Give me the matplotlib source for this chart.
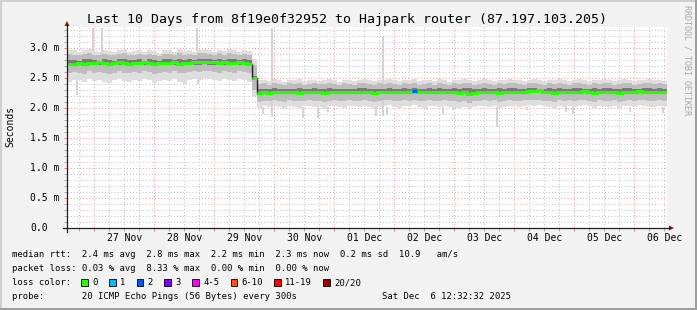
import numpy as np
import pandas as pd
import matplotlib
matplotlib.use("Agg")
import matplotlib.pyplot as plt
import matplotlib.dates as mdates
import matplotlib.transforms as mtransforms
from matplotlib.patches import Rectangle, Polygon
from matplotlib.ticker import MultipleLocator

# ---------------- data ----------------
title = "Last 10 Days from 8f19e0f32952 to Hajpark router (87.197.103.205)"
start_time = "2025-11-26 13:05"
bucket_freq = "2h"

median_rtt = ([2.73, 2.74, 2.75, 2.74, 2.75, 2.75, 2.76, 2.75, 2.74, 2.75,
               2.76, 2.75, 2.74, 2.75, 2.75, 2.76, 2.75, 2.74, 2.75, 2.75,
               2.75, 2.76, 2.74, 2.75, 2.75, 2.76, 2.76, 2.77, 2.76, 2.76,
               2.75, 2.76, 2.75, 2.75, 2.76, 2.75, 2.74]
              + [2.50]
              + [2.25, 2.26, 2.25, 2.27, 2.26, 2.26, 2.27, 2.26, 2.25, 2.26,
                 2.27, 2.27, 2.26, 2.25, 2.26, 2.27, 2.26, 2.26, 2.27, 2.26,
                 2.26, 2.27, 2.26, 2.25, 2.26, 2.27, 2.27, 2.26, 2.26, 2.27,
                 2.27, 2.28, 2.27, 2.26, 2.27, 2.27, 2.26, 2.27, 2.26, 2.26,
                 2.25, 2.26, 2.24, 2.25, 2.26, 2.27, 2.26, 2.27, 2.25, 2.26,
                 2.27, 2.26, 2.26, 2.27, 2.28, 2.29, 2.30, 2.27, 2.26, 2.25,
                 2.27, 2.26, 2.27, 2.26, 2.27, 2.28, 2.27, 2.25, 2.27, 2.26,
                 2.26, 2.27, 2.25, 2.26, 2.27, 2.26, 2.28, 2.27, 2.27, 2.26,
                 2.27, 2.27])

smoke_out_hi = ([2.97, 2.96, 2.93, 2.96, 2.99, 2.95, 2.94, 2.97, 2.95, 2.93,
                 2.96, 2.98, 2.94, 2.95, 2.97, 2.93, 2.96, 2.95, 2.92, 2.97,
                 2.96, 2.94, 2.98, 2.95, 2.96, 2.93, 2.97, 2.99, 2.96, 2.94,
                 2.97, 2.95, 2.98, 2.96, 2.94, 2.97, 2.95]
                + [2.82]
                + [2.46, 2.47, 2.45, 2.48, 2.46, 2.44, 2.47, 2.46, 2.48, 2.45,
                   2.46, 2.47, 2.45, 2.46, 2.48, 2.46, 2.44, 2.47, 2.46, 2.45,
                   2.47, 2.48, 2.46, 2.45, 2.47, 2.46, 2.49, 2.46, 2.45, 2.47,
                   2.46, 2.48, 2.45, 2.46, 2.47, 2.45, 2.48, 2.46, 2.44, 2.47,
                   2.46, 2.48, 2.47, 2.45, 2.46, 2.48, 2.46, 2.45, 2.47, 2.46,
                   2.49, 2.47, 2.46, 2.45, 2.47, 2.48, 2.46, 2.45, 2.47, 2.46,
                   2.48, 2.46, 2.45, 2.47, 2.48, 2.46, 2.45, 2.47, 2.46, 2.48,
                   2.47, 2.45, 2.46, 2.48, 2.47, 2.45, 2.46, 2.47, 2.48, 2.46,
                   2.47, 2.45])

smoke_mid_hi = ([2.90, 2.89, 2.88, 2.90, 2.92, 2.89, 2.88, 2.90, 2.89, 2.88,
                 2.90, 2.91, 2.89, 2.89, 2.90, 2.88, 2.90, 2.89, 2.87, 2.90,
                 2.90, 2.88, 2.91, 2.89, 2.90, 2.88, 2.91, 2.92, 2.90, 2.89,
                 2.91, 2.89, 2.91, 2.90, 2.89, 2.90, 2.89]
                + [2.72]
                + [2.40, 2.41, 2.39, 2.41, 2.40, 2.39, 2.41, 2.40, 2.42, 2.39,
                   2.40, 2.41, 2.40, 2.40, 2.42, 2.40, 2.39, 2.41, 2.40, 2.39,
                   2.41, 2.42, 2.40, 2.39, 2.41, 2.40, 2.42, 2.40, 2.39, 2.41,
                   2.40, 2.42, 2.39, 2.40, 2.41, 2.39, 2.42, 2.40, 2.39, 2.41,
                   2.40, 2.42, 2.41, 2.39, 2.40, 2.42, 2.40, 2.39, 2.41, 2.40,
                   2.42, 2.41, 2.40, 2.39, 2.41, 2.42, 2.40, 2.39, 2.41, 2.40,
                   2.42, 2.40, 2.39, 2.41, 2.42, 2.40, 2.39, 2.41, 2.40, 2.42,
                   2.41, 2.39, 2.40, 2.42, 2.41, 2.39, 2.40, 2.41, 2.42, 2.40,
                   2.41, 2.40])

smoke_core_hi = ([2.80, 2.80, 2.79, 2.81, 2.82, 2.80, 2.79, 2.81, 2.80, 2.79,
                  2.81, 2.81, 2.80, 2.80, 2.81, 2.79, 2.81, 2.80, 2.79, 2.81,
                  2.81, 2.80, 2.82, 2.80, 2.81, 2.80, 2.82, 2.82, 2.81, 2.80,
                  2.82, 2.80, 2.81, 2.81, 2.80, 2.81, 2.80]
                 + [2.53]
                 + [2.31, 2.32, 2.31, 2.33, 2.32, 2.31, 2.32, 2.32, 2.33, 2.31,
                    2.32, 2.33, 2.32, 2.31, 2.33, 2.32, 2.31, 2.32, 2.32, 2.31,
                    2.33, 2.33, 2.32, 2.31, 2.32, 2.32, 2.33, 2.32, 2.31, 2.33,
                    2.32, 2.33, 2.31, 2.32, 2.33, 2.32, 2.33, 2.32, 2.31, 2.33,
                    2.32, 2.33, 2.33, 2.31, 2.32, 2.33, 2.32, 2.31, 2.33, 2.32,
                    2.34, 2.33, 2.32, 2.31, 2.33, 2.33, 2.32, 2.31, 2.33, 2.32,
                    2.33, 2.32, 2.31, 2.33, 2.33, 2.32, 2.31, 2.33, 2.32, 2.33,
                    2.33, 2.31, 2.32, 2.33, 2.33, 2.31, 2.32, 2.33, 2.33, 2.32,
                    2.33, 2.32])

smoke_core_lo = ([2.70, 2.71, 2.71, 2.70, 2.72, 2.71, 2.72, 2.71, 2.70, 2.71,
                  2.72, 2.71, 2.70, 2.71, 2.71, 2.72, 2.71, 2.70, 2.71, 2.71,
                  2.71, 2.72, 2.70, 2.71, 2.71, 2.72, 2.72, 2.73, 2.72, 2.72,
                  2.71, 2.72, 2.71, 2.71, 2.72, 2.71, 2.70]
                 + [2.47]
                 + [2.22, 2.23, 2.22, 2.24, 2.23, 2.23, 2.24, 2.23, 2.22, 2.23,
                    2.24, 2.24, 2.23, 2.22, 2.23, 2.24, 2.23, 2.23, 2.24, 2.23,
                    2.23, 2.24, 2.23, 2.22, 2.23, 2.24, 2.24, 2.23, 2.23, 2.24,
                    2.24, 2.25, 2.24, 2.23, 2.24, 2.24, 2.23, 2.24, 2.23, 2.23,
                    2.22, 2.23, 2.21, 2.22, 2.23, 2.24, 2.23, 2.24, 2.22, 2.23,
                    2.24, 2.23, 2.23, 2.24, 2.25, 2.26, 2.27, 2.24, 2.23, 2.22,
                    2.24, 2.23, 2.24, 2.23, 2.24, 2.25, 2.24, 2.22, 2.24, 2.23,
                    2.23, 2.24, 2.22, 2.23, 2.24, 2.23, 2.25, 2.24, 2.24, 2.23,
                    2.24, 2.24])

smoke_mid_lo = ([2.58, 2.60, 2.59, 2.57, 2.61, 2.59, 2.60, 2.58, 2.57, 2.59,
                 2.61, 2.59, 2.58, 2.60, 2.59, 2.61, 2.60, 2.57, 2.59, 2.60,
                 2.59, 2.61, 2.58, 2.59, 2.60, 2.61, 2.60, 2.62, 2.61, 2.60,
                 2.59, 2.61, 2.60, 2.59, 2.61, 2.60, 2.58]
                + [2.30]
                + [2.10, 2.12, 2.11, 2.13, 2.12, 2.10, 2.13, 2.12, 2.11, 2.12,
                   2.13, 2.12, 2.11, 2.10, 2.12, 2.13, 2.12, 2.11, 2.13, 2.12,
                   2.12, 2.13, 2.11, 2.10, 2.12, 2.13, 2.13, 2.12, 2.11, 2.13,
                   2.12, 2.14, 2.12, 2.11, 2.13, 2.12, 2.11, 2.13, 2.12, 2.11,
                   2.10, 2.12, 2.09, 2.11, 2.12, 2.13, 2.12, 2.13, 2.10, 2.12,
                   2.13, 2.12, 2.11, 2.13, 2.14, 2.13, 2.14, 2.12, 2.11, 2.10,
                   2.13, 2.12, 2.13, 2.11, 2.13, 2.14, 2.12, 2.10, 2.13, 2.12,
                   2.11, 2.13, 2.10, 2.12, 2.13, 2.12, 2.14, 2.13, 2.12, 2.11,
                   2.13, 2.12])

smoke_out_lo = ([2.44, 2.47, 2.46, 2.43, 2.48, 2.45, 2.47, 2.44, 2.42, 2.46,
                 2.48, 2.45, 2.43, 2.47, 2.45, 2.48, 2.46, 2.42, 2.45, 2.47,
                 2.45, 2.48, 2.44, 2.40, 2.46, 2.48, 2.47, 2.50, 2.48, 2.46,
                 2.45, 2.48, 2.47, 2.45, 2.48, 2.46, 2.43]
                + [2.20]
                + [2.00, 2.03, 2.01, 2.04, 2.02, 1.99, 2.04, 2.02, 2.00, 2.03,
                   2.04, 2.02, 2.01, 1.99, 2.03, 2.04, 2.02, 2.00, 2.04, 2.03,
                   2.02, 2.04, 2.01, 1.99, 2.02, 2.04, 2.05, 2.02, 2.00, 2.04,
                   2.03, 2.05, 2.02, 2.00, 2.04, 2.03, 2.01, 2.04, 2.02, 2.00,
                   1.99, 2.02, 1.98, 2.01, 2.03, 2.04, 2.02, 2.04, 2.00, 2.02,
                   2.04, 2.03, 2.01, 2.04, 2.05, 2.04, 2.05, 2.03, 2.01, 1.99,
                   2.04, 2.02, 2.04, 2.01, 2.03, 2.05, 2.03, 2.00, 2.04, 2.02,
                   2.01, 2.04, 2.00, 2.03, 2.04, 2.02, 2.05, 2.04, 2.02, 2.01,
                   2.04, 2.03])

# single-ping outliers
spike_time = ["2025-11-26 17:05", "2025-11-26 23:30", "2025-11-27 03:00",
              "2025-11-28 17:00", "2025-11-28 17:40", "2025-11-29 19:30",
              "2025-11-29 23:00", "2025-11-30 11:30", "2025-11-30 17:30",
              "2025-11-30 21:30", "2025-12-01 16:40", "2025-12-01 19:30",
              "2025-12-01 21:05", "2025-12-02 13:05", "2025-12-02 19:30",
              "2025-12-02 23:30", "2025-12-03 17:05", "2025-12-04 05:05",
              "2025-12-04 20:40", "2025-12-04 23:30", "2025-12-05 22:15",
              "2025-12-06 11:30"]
spike_lo = [2.22, 2.95, 2.90, 2.95, 2.40, 1.90, 1.85, 1.83, 1.83, 1.94, 1.86,
            1.86, 1.88, 1.96, 1.90, 1.96, 1.68, 1.96, 1.93, 1.90, 1.94, 1.92]
spike_hi = [2.46, 3.33, 3.33, 3.33, 2.47, 2.02, 3.34, 2.02, 2.02, 2.02, 2.02,
            3.19, 2.02, 2.02, 2.02, 2.02, 2.02, 2.02, 2.02, 2.02, 2.02, 2.02]

loss_bucket = [69]
loss_count = [2]

y_tick_values = [0.0, 0.5, 1.0, 1.5, 2.0, 2.5, 3.0]
y_tick_labels = ["0.0", "0.5 m", "1.0 m", "1.5 m", "2.0 m", "2.5 m", "3.0 m"]
x_tick_times = ["2025-11-27 12:00", "2025-11-28 12:00", "2025-11-29 12:00",
                "2025-11-30 12:00", "2025-12-01 12:00", "2025-12-02 12:00",
                "2025-12-03 12:00", "2025-12-04 12:00", "2025-12-05 12:00",
                "2025-12-06 12:00"]
x_tick_labels = ["27 Nov", "28 Nov", "29 Nov", "30 Nov", "01 Dec", "02 Dec",
                 "03 Dec", "04 Dec", "05 Dec", "06 Dec"]

legend_rtt = "median rtt:  2.4 ms avg  2.8 ms max  2.2 ms min  2.3 ms now  0.2 ms sd  10.9   am/s"
legend_loss = "packet loss: 0.03 % avg  8.33 % max  0.00 % min  0.00 % now"
loss_labels = ["0", "1", "2", "3", "4-5", "6-10", "11-19", "20/20"]
loss_colors = ["#26ff00", "#00b8ff", "#0059ff", "#7e00ff", "#ff00ff",
               "#ff5500", "#ff0000", "#a00000"]
probe_text = "probe:       20 ICMP Echo Pings (56 Bytes) every 300s"
stamp_text = "Sat Dec  6 12:32:32 2025"

# ---------------- drawing ----------------
W, H = 697, 310
FONT = "DejaVu Sans Mono"
plt.rcParams["font.family"] = [FONT]

def fx(x):
    return x / W

def fy(y):
    return 1 - y / H

BG = "#f2f2f2"
fig = plt.figure(figsize=(W / 100, H / 100), dpi=100, facecolor=BG)

# frame shading
fig.add_artist(Rectangle((0, fy(2)), 1, 2 / H, transform=fig.transFigure, color="#cfcfcf", lw=0))
fig.add_artist(Rectangle((0, 0), 2 / W, 1, transform=fig.transFigure, color="#cfcfcf", lw=0))
fig.add_artist(Rectangle((0, 0), 1, 2 / H, transform=fig.transFigure, color="#9e9e9e", lw=0))
fig.add_artist(Rectangle((fx(W - 2), 0), 2 / W, 1, transform=fig.transFigure, color="#9e9e9e", lw=0))

L, R, T, B = 67, 667, 27, 228
ax = fig.add_axes([fx(L), fy(B), (R - L) / W, (B - T) / H])
ax.set_facecolor("white")
for s in ax.spines.values():
    s.set_visible(False)

n = len(median_rtt)
edges_dt = pd.date_range(start_time, periods=n + 1, freq=bucket_freq)
edges = mdates.date2num(edges_dt.to_pydatetime())
ax.set_xlim(edges[0], edges[-1])
ax.set_ylim(0, 3.35)

# grid
ax.set_axisbelow(True)
ax.xaxis.set_major_locator(mdates.DayLocator())
ax.xaxis.set_minor_locator(mdates.HourLocator(byhour=[6, 12, 18]))
ax.yaxis.set_major_locator(MultipleLocator(0.5))
ax.yaxis.set_minor_locator(MultipleLocator(0.1))
ax.grid(which="major", color="#f0a0a0", lw=0.75, ls=(0, (1, 2)))
ax.grid(which="minor", color="#c4c4c4", lw=0.75, ls=(0, (1, 2)))
ax.tick_params(which="both", labelbottom=False, labelleft=False, direction="out")
ax.tick_params(which="major", length=2.5, width=0.7, color="#e08080")
ax.tick_params(which="minor", length=2.0, width=0.7, color="#a8a8a8")

# smoke
ax.stairs(smoke_out_hi, edges, baseline=smoke_out_lo, fill=True, color="#dedede", lw=0, zorder=2)
spike_x = mdates.date2num(pd.to_datetime(spike_time).to_pydatetime())
ax.vlines(spike_x, spike_lo, spike_hi, colors="#d4d4d4", lw=1.5, zorder=2.1)
ax.stairs(smoke_mid_hi, edges, baseline=smoke_mid_lo, fill=True, color="#bdbdbd", lw=0, zorder=3)
ax.stairs(smoke_core_hi, edges, baseline=smoke_core_lo, fill=True, color="#7a7a7a", lw=0, zorder=4)

# median: thin dark connector, then green steps coloured by loss
ax.stairs(median_rtt, edges, baseline=None, color="#202020", lw=1.0, zorder=5)
step_at = 37
ax.stairs(median_rtt[:step_at], edges[:step_at + 1], baseline=None,
          color=loss_colors[0], lw=2.2, zorder=6)
ax.stairs(median_rtt[step_at + 1:], edges[step_at + 1:], baseline=None,
          color=loss_colors[0], lw=2.2, zorder=6)
ax.hlines([median_rtt[step_at]], edges[step_at], edges[step_at + 1],
          colors=loss_colors[0], lw=2.2, zorder=6)
for b, c in zip(loss_bucket, loss_count):
    ax.hlines([median_rtt[b]], edges[b], edges[b + 1], colors=loss_colors[c], lw=2.2, zorder=7)

# axis lines and arrows
axis_col = "#202020"
arrow_col = "#a01010"
fig.add_artist(plt.Line2D([fx(L), fx(L)], [fy(B + 4), fy(T - 3)], transform=fig.transFigure, color=axis_col, lw=0.9))
fig.add_artist(plt.Line2D([fx(L - 4), fx(R + 3)], [fy(B), fy(B)], transform=fig.transFigure, color=axis_col, lw=0.9))
fig.add_artist(Polygon([(fx(L - 2.5), fy(T - 1)), (fx(L + 2.5), fy(T - 1)), (fx(L), fy(T - 6))],
                       closed=True, transform=fig.transFigure, color=arrow_col, lw=0))
fig.add_artist(Polygon([(fx(R + 2), fy(B - 2.5)), (fx(R + 2), fy(B + 2.5)), (fx(R + 7), fy(B))],
                       closed=True, transform=fig.transFigure, color=arrow_col, lw=0))

# axis labels
ty = mtransforms.blended_transform_factory(fig.transFigure, ax.transData)
for v, lab in zip(y_tick_values, y_tick_labels):
    fig.text(fx(30), v, lab, transform=ty, ha="left", va="center", fontsize=7, color="black")
tx = mtransforms.blended_transform_factory(ax.transData, fig.transFigure)
x_tick_pos = mdates.date2num(pd.to_datetime(x_tick_times).to_pydatetime())
for p, lab in zip(x_tick_pos, x_tick_labels):
    fig.text(p, fy(238), lab, transform=tx, ha="center", va="center", fontsize=7, color="black")

fig.text(fx(347), fy(19.5), title, ha="center", va="center", fontsize=9.5)
fig.text(fx(10), fy(126), "Seconds", rotation=90, ha="center", va="center", fontsize=7)
fig.text(fx(687.5), fy(60), "RRDTOOL / TOBI OETIKER", rotation=-90, ha="center", va="center",
         fontsize=6, color="#a8a8a8")

# legend
LEG = 6.4
fig.text(fx(12), fy(254.5), legend_rtt, ha="left", va="center", fontsize=LEG)
fig.text(fx(12), fy(268.5), legend_loss, ha="left", va="center", fontsize=LEG)
fig.text(fx(12), fy(282.5), "loss color:", ha="left", va="center", fontsize=LEG)
box_x = [81, 109, 136.7, 164.3, 192.3, 230.7, 274, 323.3]
lab_x = [92.3, 120, 147.7, 175.7, 203.3, 241.7, 285, 334.3]
for bx, lx, lab, col in zip(box_x, lab_x, loss_labels, loss_colors):
    fig.add_artist(Rectangle((fx(bx), fy(286)), 6.5 / W, 7 / H, transform=fig.transFigure,
                             facecolor=col, edgecolor="black", lw=0.6))
    fig.text(fx(lx), fy(282.5), lab, ha="left", va="center", fontsize=LEG)
fig.text(fx(12), fy(296.5), probe_text, ha="left", va="center", fontsize=LEG)
fig.text(fx(511), fy(296.5), stamp_text, ha="right", va="center", fontsize=LEG)

fig.savefig("out.png", dpi=100, facecolor=BG)
